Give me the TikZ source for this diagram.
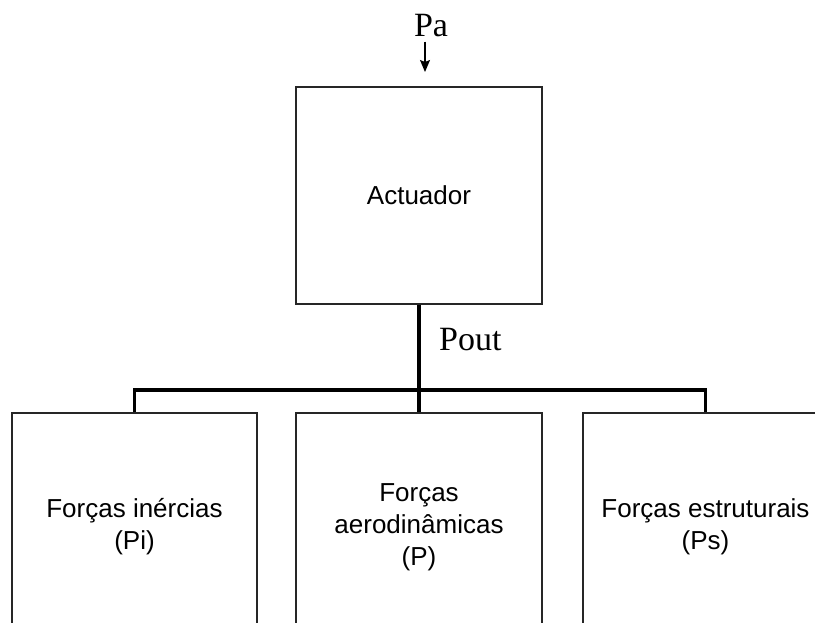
\documentclass[tikz,border=0pt]{standalone}
\usepackage{fontspec}
\setmainfont{Liberation Sans}
\newfontfamily\serifface{Liberation Serif}
\usetikzlibrary{arrows.meta}
\begin{document}
\begin{tikzpicture}[x=1pt,y=-1pt,
  blockbox/.style={draw=black!85, line width=1.2pt, minimum width=246pt,
    minimum height=217pt, inner sep=0pt, align=center,
    font=\fontsize{26}{32}\selectfont},
  lowbox/.style={blockbox, minimum height=228pt},
  feed/.style={line width=3.6pt, line cap=butt},
  lbl/.style={font=\serifface\fontsize{34}{40}\selectfont, inner sep=0pt}]
\clip (0,0) rectangle (815,623);

% actuator block
\node[blockbox] (act) at (419,195.5) {Actuador};

% force blocks below
\node[lowbox, minimum width=245pt] (inert) at (134.5,527) {Forças inércias\\(Pi)};
\node[lowbox] (aero) at (419,527) {Forças\\aerodinâmicas\\(P)};
\node[lowbox, minimum width=245pt] (struct) at (705.5,527) {Forças estruturais\\(Ps)};

% input pressure
\node[lbl, anchor=base] (pa) at (431,37) {Pa};
\coordinate (tip) at (425,72);
\draw[line width=1.1pt, -{Stealth[length=12pt,width=10pt,inset=2pt]}]
  (tip |- pa.south) ++(0,4) -- (tip);

% output distribution
\coordinate (bus) at (419,390);
\draw[feed] (act.south) -- (aero.north);
\draw[feed] (inert.north) |- (bus) -| (struct.north);
\node[lbl, anchor=base west] (pout) at (439,350) {Pout};
\end{tikzpicture}
\end{document}
